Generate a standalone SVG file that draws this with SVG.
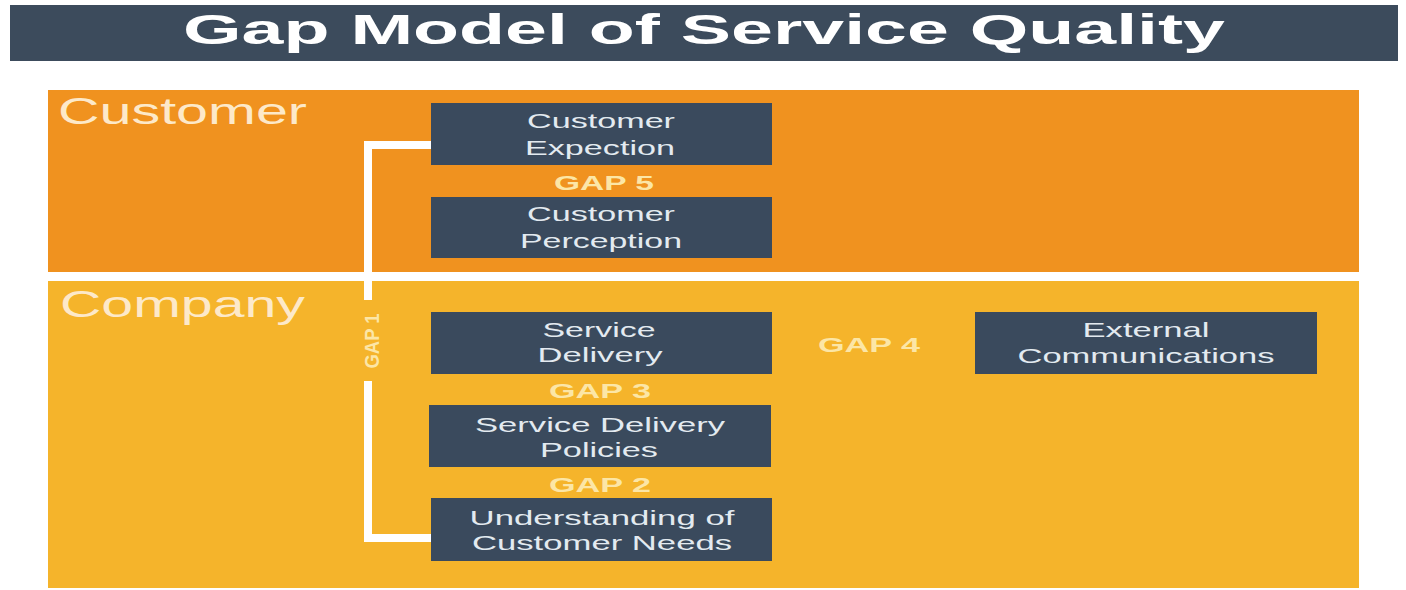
<svg xmlns="http://www.w3.org/2000/svg" width="1406" height="590" viewBox="0 0 1406 590">
<style>
.title{font-family:"Liberation Sans",Arial,sans-serif;font-weight:bold;font-size:42px;fill:#ffffff}
.band{font-family:"Liberation Sans",Arial,sans-serif;font-size:36px;fill:#fde9c9}
.box{fill:#3a4a5d}
.bt{font-family:"Liberation Sans",Arial,sans-serif;font-size:21px;fill:#e3eaf0;text-anchor:middle}
.gap{font-family:"Liberation Sans",Arial,sans-serif;font-weight:bold;font-size:20px;fill:#fce6a6;text-anchor:middle}
.conn{fill:none;stroke:#ffffff;stroke-width:8}
</style>
<rect x="0" y="0" width="1406" height="590" fill="#ffffff"/>
<g id="title">
<rect x="10" y="5" width="1388" height="56" fill="#3c4b5c"/>
<text class="title" x="704" y="44" text-anchor="middle" textLength="1042" lengthAdjust="spacingAndGlyphs">Gap Model of Service Quality</text>
</g>
<g id="customer-band">
<rect x="48" y="90" width="1311" height="182" fill="#f0921f"/>
<text class="band" x="58" y="124" textLength="249" lengthAdjust="spacingAndGlyphs">Customer</text>
</g>
<g id="company-band">
<rect x="48" y="281" width="1311" height="307" fill="#f5b42b"/>
<text class="band" x="60" y="317" textLength="245" lengthAdjust="spacingAndGlyphs">Company</text>
</g>
<g id="connectors">
<polyline class="conn" points="431,145 368,145 368,300"/>
<polyline class="conn" points="368,381 368,538 431,538"/>
<text class="gap" transform="translate(379,341) rotate(-90)" font-size="20" textLength="55" lengthAdjust="spacingAndGlyphs">GAP 1</text>
</g>
<g id="customer-expection">
<rect class="box" x="431" y="103" width="341" height="62"/>
<text class="bt" x="601" y="128" textLength="148" lengthAdjust="spacingAndGlyphs">Customer</text>
<text class="bt" x="600" y="155" textLength="150" lengthAdjust="spacingAndGlyphs">Expection</text>
</g>
<g id="customer-perception">
<rect class="box" x="431" y="197" width="341" height="61"/>
<text class="bt" x="601" y="221" textLength="148" lengthAdjust="spacingAndGlyphs">Customer</text>
<text class="bt" x="601" y="248" textLength="162" lengthAdjust="spacingAndGlyphs">Perception</text>
</g>
<g id="service-delivery">
<rect class="box" x="431" y="312" width="341" height="62"/>
<text class="bt" x="599" y="337" textLength="113" lengthAdjust="spacingAndGlyphs">Service</text>
<text class="bt" x="600" y="362" textLength="125" lengthAdjust="spacingAndGlyphs">Delivery</text>
</g>
<g id="service-delivery-policies">
<rect class="box" x="429" y="405" width="342" height="62"/>
<text class="bt" x="600" y="432" textLength="250" lengthAdjust="spacingAndGlyphs">Service Delivery</text>
<text class="bt" x="599" y="457" textLength="118" lengthAdjust="spacingAndGlyphs">Policies</text>
</g>
<g id="understanding-customer-needs">
<rect class="box" x="431" y="498" width="341" height="63"/>
<text class="bt" x="602" y="525" textLength="265" lengthAdjust="spacingAndGlyphs">Understanding of</text>
<text class="bt" x="602" y="550" textLength="260" lengthAdjust="spacingAndGlyphs">Customer Needs</text>
</g>
<g id="external-communications">
<rect class="box" x="975" y="312" width="342" height="62"/>
<text class="bt" x="1146" y="337" textLength="127" lengthAdjust="spacingAndGlyphs">External</text>
<text class="bt" x="1146" y="363" textLength="257" lengthAdjust="spacingAndGlyphs">Communications</text>
</g>
<g id="gap-labels">
<text class="gap" x="604" y="190" textLength="100" lengthAdjust="spacingAndGlyphs">GAP 5</text>
<text class="gap" x="600" y="398" textLength="102" lengthAdjust="spacingAndGlyphs">GAP 3</text>
<text class="gap" x="600" y="492" textLength="102" lengthAdjust="spacingAndGlyphs">GAP 2</text>
<text class="gap" x="869" y="352" textLength="102" lengthAdjust="spacingAndGlyphs">GAP 4</text>
</g>
</svg>
